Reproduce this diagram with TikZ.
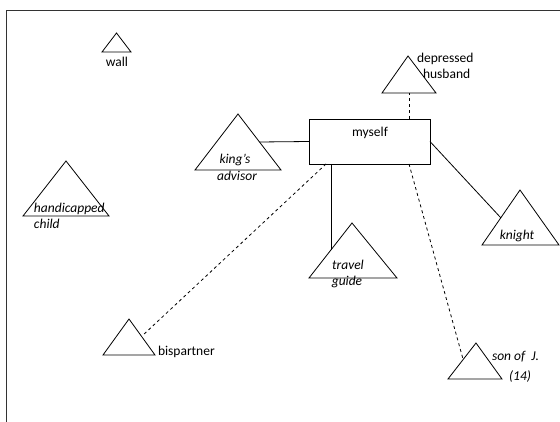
\documentclass[tikz,border=0pt]{standalone}
\usepackage{fontspec}
\setmainfont{Carlito}
\begin{document}
\begin{tikzpicture}[x=1pt,y=-1pt,
  every node/.style={inner sep=0pt,outer sep=0pt,font=\fontsize{13.5}{16.5}\selectfont},
  tri/.style={draw=black,line width=0.8pt,line join=miter},
  tie/.style={draw=black,line width=0.8pt},
  loosetie/.style={draw=black,line width=0.8pt,dash pattern=on 3pt off 3pt},
  role/.style={font=\fontsize{13.5}{16.5}\selectfont\itshape},
  framed/.style={draw=black!80,line width=0.9pt}]
\useasboundingbox (0,0) rectangle (560,422);

% open frame along the top and left
\draw[framed] (6.5,422) -- (6.5,10) -- (560,10);

% triangles: apex, then base corners
\draw[tri] (116.5,33) -- (131,52) -- (102,52) -- cycle;   % wall
\draw[tri] (408,56) -- (436,93) -- (382,93) -- cycle;     % depressed husband
\draw[tri] (238,114) -- (281,170) -- (195,170) -- cycle;  % king's advisor
\draw[tri] (66,161) -- (109,216) -- (23,216) -- cycle;    % handicapped child
\draw[tri] (352,223) -- (397,278) -- (309,278) -- cycle;  % travel guide
\draw[tri] (520,190) -- (559,245) -- (482,245) -- cycle;  % knight
\draw[tri] (129,319) -- (155,355) -- (103,355) -- cycle;  % bispartner
\draw[tri] (476,343) -- (502,379) -- (448,379) -- cycle;  % son of J.

% attachment points on the triangles
\coordinate (depBase) at (409,93);
\coordinate (kingEdge) at (259.5,142);
\coordinate (knightEdge) at (501,218);
\coordinate (travelEdge) at (331,250);
\coordinate (bisEdge) at (142,336);
\coordinate (sonEdge) at (463,359);

% the central box
\node[draw=black,line width=0.8pt,minimum width=121pt,minimum height=45pt] (me) at (369.5,141.5) {};
\node[anchor=base] (meText) at (370,136.5) {myself};

% connectors
\draw[loosetie] ([xshift=100pt]me.north west) -- (depBase);
\draw[tie] (me.west) -- (kingEdge);
\draw[tie] (me.east) -- (knightEdge);
\draw[tie] ([xshift=22pt]me.south west) -- (travelEdge);
\draw[loosetie] ([xshift=17pt]me.south west) -- (bisEdge);
\draw[loosetie] ([xshift=100pt]me.south west) -- (sonEdge);

% labels
\node[anchor=base] (wallText) at (117,67) {wall};
\node[anchor=base west] (depText) at (417,63) {depressed};
\node[anchor=base west] (husText) at (423,79) {husband};
\node[role,anchor=base] (kingText) at (235,164) {king’s};
\node[role,anchor=base] (advText) at (237,181) {advisor};
\node[role,anchor=base west] (handText) at (34,213) {handicapped};
\node[role,anchor=base west] (childText) at (34,229) {child};
\node[role,anchor=base] (travelText) at (348,270) {travel};
\node[role,anchor=base] (guideText) at (347,285.5) {guide};
\node[role,anchor=base] (knightText) at (517,240) {knight};
\node[anchor=base west] (bisText) at (158,355.5) {bispartner};
\node[role,anchor=base west] (sonText) at (492,360) {son of\ \ J.};
\node[role,anchor=base] (ageText) at (520,380) {(14)};
\end{tikzpicture}
\end{document}
